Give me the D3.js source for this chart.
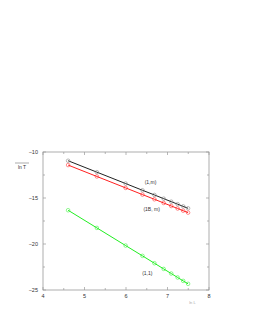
<!DOCTYPE html>
<html>
<head>
<meta charset="utf-8">
<script src="https://cdn.jsdelivr.net/npm/d3@7"></script>
<style>
  body { margin: 0; background: #fff; }
  text { font-family: "Liberation Sans", Arial, sans-serif; fill: #333; }
</style>
</head>
<body>
<div id="chart"></div>
<script>
  var W = 253;
  var H = 327;

  // ln L for the system sizes
  var lnL = [4.605, 5.298, 5.991, 6.397, 6.685, 6.908, 7.090, 7.244, 7.378, 7.496];
  // ln T for each case
  var seriesOneM = [-10.95, -12.19, -13.43, -14.16, -14.67, -15.07, -15.40, -15.67, -15.91, -16.12];
  var seriesOneBM = [-11.42, -12.66, -13.90, -14.63, -15.14, -15.54, -15.87, -16.14, -16.38, -16.59];
  var seriesOneOne = [-16.33, -18.25, -20.17, -21.29, -22.09, -22.71, -23.21, -23.64, -24.01, -24.33];

  var seriesNames = ["(1,m)", "(1B, m)", "(1,1)"];
  var seriesColors = ["#222", "#ff2020", "#22ee22"];
  var xTicks = [4, 5, 6, 7, 8];
  var yTicks = [-10, -15, -20, -25];

  var margin = { left: 43, right: 44, top: 152, bottom: 37 };
  var iw = W - margin.left - margin.right;
  var ih = H - margin.top - margin.bottom;

  var x = d3.scaleLinear().domain([4, 8]).range([0, iw]);
  var y = d3.scaleLinear().domain([-25, -10]).range([ih, 0]);

  var svg = d3.select("#chart").append("svg")
    .attr("width", W)
    .attr("height", H);

  var g = svg.append("g")
    .attr("transform", "translate(" + margin.left + "," + margin.top + ")");

  // frame
  g.append("rect")
    .attr("width", iw)
    .attr("height", ih)
    .style("fill", "none")
    .style("stroke", "#999")
    .style("stroke-width", 0.8);

  // ticks, inward on all four sides
  var xMinor = d3.range(4, 8.01, 0.5);
  var yMinor = d3.range(-25, -9.99, 2.5);

  xMinor.forEach(function(v) {
    var len = (v % 1 === 0) ? 3 : 2;
    g.append("line").attr("x1", x(v)).attr("x2", x(v)).attr("y1", ih).attr("y2", ih - len)
      .style("stroke", "#999").style("stroke-width", 0.7);
    g.append("line").attr("x1", x(v)).attr("x2", x(v)).attr("y1", 0).attr("y2", len)
      .style("stroke", "#999").style("stroke-width", 0.7);
  });
  yMinor.forEach(function(v) {
    var len = (v % 5 === 0) ? 3 : 2;
    g.append("line").attr("y1", y(v)).attr("y2", y(v)).attr("x1", 0).attr("x2", len)
      .style("stroke", "#999").style("stroke-width", 0.7);
    g.append("line").attr("y1", y(v)).attr("y2", y(v)).attr("x1", iw).attr("x2", iw - len)
      .style("stroke", "#999").style("stroke-width", 0.7);
  });

  g.selectAll("text.xt")
    .data(xTicks)
    .enter().append("text")
    .attr("class", "xt")
    .attr("x", function(d) { return x(d); })
    .attr("y", ih + 8)
    .attr("text-anchor", "middle")
    .style("font-size", "5.5px")
    .text(function(d) { return d; });

  g.selectAll("text.yt")
    .data(yTicks)
    .enter().append("text")
    .attr("class", "yt")
    .attr("x", -5)
    .attr("y", function(d) { return y(d) + 2; })
    .attr("text-anchor", "end")
    .style("font-size", "5.5px")
    .text(function(d) { return "\u2212" + Math.abs(d); });

  // axis titles
  g.append("text")
    .attr("x", -21)
    .attr("y", 17)
    .attr("text-anchor", "middle")
    .style("font-size", "5px")
    .text("ln T");
  g.append("line")
    .attr("x1", -28).attr("x2", -14)
    .attr("y1", 11).attr("y2", 11)
    .style("stroke", "#555").style("stroke-width", 0.5);

  g.append("text")
    .attr("x", x(7.6))
    .attr("y", ih + 14)
    .attr("text-anchor", "middle")
    .style("font-size", "4px")
    .style("fill", "#aaa")
    .text("ln L");

  var allSeries = [seriesOneM, seriesOneBM, seriesOneOne];

  var line = d3.line()
    .x(function(d, i) { return x(lnL[i]); })
    .y(function(d) { return y(d); });

  allSeries.forEach(function(vals, k) {
    g.append("path")
      .datum(vals)
      .attr("d", line)
      .style("fill", "none")
      .style("stroke", seriesColors[k])
      .style("stroke-width", 1);

    g.selectAll("circle.s" + k)
      .data(vals)
      .enter().append("circle")
      .attr("class", "s" + k)
      .attr("cx", function(d, i) { return x(lnL[i]); })
      .attr("cy", function(d) { return y(d); })
      .attr("r", 1.8)
      .style("fill", "none")
      .style("stroke", k === 0 ? "#777" : seriesColors[k])
      .style("stroke-width", 0.5);
  });

  // series labels
  var labelPos = [[6.45, -13.5], [6.42, -16.45], [6.39, -23.4]];
  labelPos.forEach(function(p, k) {
    g.append("text")
      .attr("x", x(p[0]))
      .attr("y", y(p[1]))
      .style("font-size", "5px")
      .text(seriesNames[k]);
  });
</script>
</body>
</html>
